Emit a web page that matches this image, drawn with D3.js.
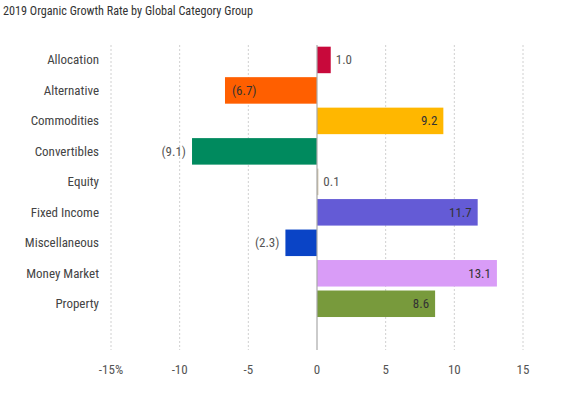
<!DOCTYPE html>
<html>
<head>
<meta charset="utf-8">
<script src="https://cdn.jsdelivr.net/npm/d3@7"></script>
<style>
  body { margin: 0; background: #fff; }
  svg text { font-family: "Roboto Condensed", "Roboto", sans-serif; }
</style>
</head>
<body>
<div id="chart"></div>
<script>
// chart data
const categories = ["Allocation", "Alternative", "Commodities", "Convertibles", "Equity",
                    "Fixed Income", "Miscellaneous", "Money Market", "Property"];
const values = [1.0, -6.7, 9.2, -9.1, 0.1, 11.7, -2.3, 13.1, 8.6];
const barColors = ["#c8093b", "#ff5f00", "#ffb700", "#008a5e", "#cfc3a6",
                   "#645bd6", "#0a44c6", "#d99cf7", "#789a3c"];
// where the value label sits: out = outside bar end, in = inside bar end
const labelPos = ["out", "in", "in", "out", "out", "in", "out", "in", "in"];
const tickValues = [-15, -10, -5, 0, 5, 10, 15];

const width = 565, height = 399;

const svg = d3.select("#chart").append("svg")
    .attr("width", width)
    .attr("height", height);

const x = d3.scaleLinear().domain([-15, 15]).range([111, 523]);
const y = d3.scaleBand().domain(categories).range([44.7, 319])
    .paddingInner(0.13).paddingOuter(0.065);

// title
svg.append("text")
    .attr("x", 3)
    .attr("y", 15)
    .attr("textLength", 250)
    .attr("lengthAdjust", "spacingAndGlyphs")
    .style("font-size", "13px")
    .style("fill", "#333")
    .text("2019 Organic Growth Rate by Global Category Group");

// gridlines
svg.append("g").selectAll("line")
    .data(tickValues.filter(d => d !== 0))
    .enter().append("line")
    .attr("x1", d => x(d)).attr("x2", d => x(d))
    .attr("y1", 45).attr("y2", 350)
    .attr("stroke", "#d0d0d0")
    .attr("stroke-width", 1)
    .attr("stroke-dasharray", "2,2");

// x axis labels
svg.append("g").selectAll("text")
    .data(tickValues)
    .enter().append("text")
    .attr("x", d => x(d))
    .attr("y", 374)
    .attr("text-anchor", "middle")
    .style("font-size", "13px")
    .style("fill", "#555")
    .text((d, i) => i === 0 ? d + "%" : d);

// bars
const rows = categories.map((c, i) => ({ cat: c, v: values[i], color: barColors[i], pos: labelPos[i] }));

svg.append("g").selectAll("rect")
    .data(rows)
    .enter().append("rect")
    .attr("x", d => x(Math.min(0, d.v)))
    .attr("y", d => y(d.cat))
    .attr("width", d => Math.max(1.2, Math.abs(x(d.v) - x(0))))
    .attr("height", y.bandwidth())
    .attr("fill", d => d.color);

// zero line
svg.append("line")
    .attr("x1", x(0)).attr("x2", x(0))
    .attr("y1", 45).attr("y2", 350)
    .attr("stroke", "#a8a8a8")
    .attr("stroke-width", 1.2);

// category labels
svg.append("g").selectAll("text")
    .data(categories)
    .enter().append("text")
    .attr("x", 99)
    .attr("y", d => y(d) + y.bandwidth() / 2)
    .attr("dy", "0.35em")
    .attr("text-anchor", "end")
    .style("font-size", "13px")
    .style("fill", "#444")
    .text(d => d);

// value labels
const fmt = v => v < 0 ? "(" + Math.abs(v).toFixed(1) + ")" : v.toFixed(1);
svg.append("g").selectAll("text")
    .data(rows)
    .enter().append("text")
    .attr("x", d => {
        if (d.v >= 0) return d.pos === "out" ? x(d.v) + 5 : x(d.v) - 6;
        return d.pos === "out" ? x(d.v) - 6 : x(d.v) + 7;
    })
    .attr("y", d => y(d.cat) + y.bandwidth() / 2)
    .attr("dy", "0.35em")
    .attr("text-anchor", d => {
        if (d.v >= 0) return d.pos === "out" ? "start" : "end";
        return d.pos === "out" ? "end" : "start";
    })
    .style("font-size", "13px")
    .style("fill", d => d.pos === "out" ? "#555" : "#333")
    .text(d => fmt(d.v));
</script>
</body>
</html>
